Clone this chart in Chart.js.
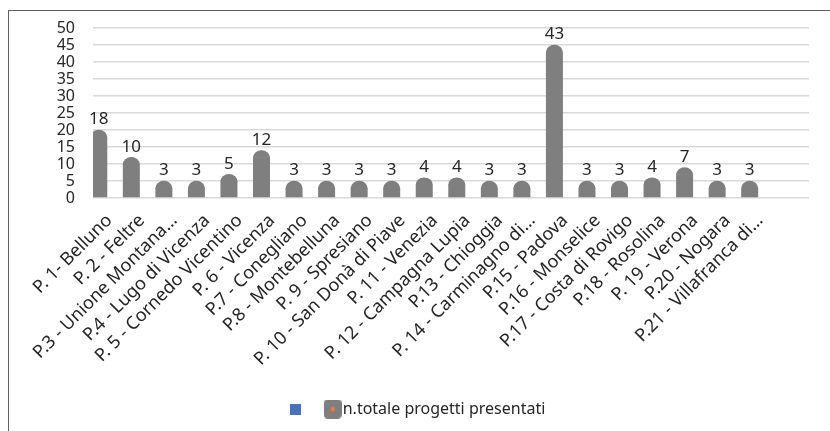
<!DOCTYPE html>
<html>
<head>
<meta charset="utf-8">
<script src="https://cdn.jsdelivr.net/npm/chart.js@4.4.1/dist/chart.umd.min.js"></script>
<style>
  html, body { margin: 0; padding: 0; background: #fff; }
  #wrap { position: relative; width: 830px; height: 431px; overflow: hidden; }
  #frame {
    position: absolute; left: 8px; top: 10px; width: 900px; height: 500px;
    border-top: 1.5px solid #606060; border-left: 1.5px solid #606060;
  }
  canvas { position: absolute; left: 0; top: 0; }
</style>
</head>
<body>
<div id="wrap">
  <div id="frame"></div>
  <canvas id="progettiChart" width="830" height="431"></canvas>
</div>
<script>
// Categories (last slot is empty in the original sheet)
const projects = [
  "P. 1- Belluno", "P. 2 - Feltre", "P.3 - Unione Montana…", "P.4 - Lugo di Vicenza",
  "P. 5 - Cornedo Vicentino", "P. 6 - Vicenza", "P.7 - Conegliano", "P.8 - Montebelluna",
  "P. 9 - Spresiano", "P. 10 - San Donà di Piave", "P. 11 - Venezia", "P. 12 - Campagna Lupia",
  "P.13 - Chioggia", "P. 14 - Carminagno di…", "P.15 - Padova", "P.16 - Monselice",
  "P.17 - Costa di Rovigo", "P.18 - Rosolina", "P. 19 - Verona", "P.20 - Nogara",
  "P.21 - Villafranca di…", ""
];

// n.totale progetti presentati
const totals = [18, 10, 3, 3, 5, 12, 3, 3, 3, 3, 4, 4, 3, 3, 43, 3, 3, 4, 7, 3, 3, null];

// empty blue series shown only in the legend
const emptySeries = projects.map(() => null);

const yTicks = { min: 0, max: 50, step: 5 };

const barColor = "#7f7f7f";
const capHeight = 7.5;
const fontFamily = '"Noto Sans", sans-serif';

// small images used as legend swatches
function makeSwatch(w, h, fill, radius, dot) {
  const c = document.createElement("canvas");
  c.width = w;
  c.height = h;
  const g = c.getContext("2d");
  g.fillStyle = fill;
  g.beginPath();
  if (radius) g.roundRect(0, 0, w, h, radius);
  else g.rect(0, 0, w, h);
  g.fill();
  if (dot) {
    g.fillStyle = dot;
    g.fillRect(w / 2 - 2, h / 2 - 2, 4, 4);
  }
  return c;
}
const blueSwatch = makeSwatch(11, 11, "#4472c4", 0, null);
const graySwatch = makeSwatch(18, 19, "#7f7f7f", 4, "#ed7d31");

// rounded caps on the bars + value labels above them
const barCaps = {
  id: "barCaps",
  afterLayout(chart) {
    // legend sits a bit right of centre in the original
    chart.legend.left += 11;
    chart.legend.right += 11;
  },
  afterDatasetsDraw(chart) {
    const ctx = chart.ctx;
    const area = chart.chartArea;
    const meta = chart.getDatasetMeta(0);

    ctx.save();
    ctx.beginPath();
    ctx.rect(area.left, 0, area.right - area.left, area.bottom);
    ctx.clip();
    ctx.fillStyle = barColor;
    meta.data.forEach((bar, i) => {
      if (totals[i] == null) return;
      ctx.beginPath();
      ctx.ellipse(bar.x, bar.y + 0.5, bar.width / 2, capHeight, 0, Math.PI, 2 * Math.PI);
      ctx.fill();
    });
    ctx.restore();

    ctx.save();
    ctx.font = "17px " + fontFamily;
    ctx.fillStyle = "#262626";
    ctx.textAlign = "center";
    ctx.textBaseline = "alphabetic";
    meta.data.forEach((bar, i) => {
      if (totals[i] == null) return;
      ctx.fillText(String(totals[i]), bar.x, bar.y - capHeight - 5);
    });
    ctx.restore();
  },
};

new Chart(document.getElementById("progettiChart"), {
  type: "bar",
  data: {
    labels: projects,
    datasets: [
      {
        label: "n.totale progetti presentati",
        data: totals,
        backgroundColor: barColor,
        borderWidth: 0,
        clip: 0,
      },
      {
        label: "",
        data: emptySeries,
        backgroundColor: "#4472c4",
      },
    ],
  },
  options: {
    responsive: false,
    animation: false,
    devicePixelRatio: 1,
    categoryPercentage: 1.29,
    barPercentage: 0.81,
    layout: { padding: { left: 8, right: 21, top: 28, bottom: 4 } },
    scales: {
      x: {
        grid: { display: false },
        border: { display: false },
        ticks: {
          autoSkip: false,
          maxRotation: 45,
          minRotation: 45,
          color: "#262626",
          font: { family: fontFamily, size: 18 },
          padding: 4,
        },
        afterFit(scale) {
          scale.height = 178;
        },
      },
      y: {
        min: yTicks.min,
        max: yTicks.max,
        border: { display: false },
        grid: { color: "#d9d9d9", lineWidth: 1.5, drawTicks: false },
        ticks: {
          stepSize: yTicks.step,
          autoSkip: false,
          color: "#262626",
          font: { family: fontFamily, size: 16 },
          padding: 18,
        },
        afterFit(scale) {
          scale.width = 85;
        },
      },
    },
    plugins: {
      tooltip: { enabled: false },
      legend: {
        position: "bottom",
        reverse: true,
        labels: {
          usePointStyle: true,
          pointStyleWidth: 4,
          padding: 25,
          color: "#262626",
          font: { family: fontFamily, size: 16 },
          generateLabels(chart) {
            const items = Chart.defaults.plugins.legend.labels.generateLabels(chart);
            items.forEach((item) => {
              item.pointStyle = item.datasetIndex === 0 ? graySwatch : blueSwatch;
            });
            return items;
          },
        },
      },
    },
  },
  plugins: [barCaps],
});
</script>
</body>
</html>
